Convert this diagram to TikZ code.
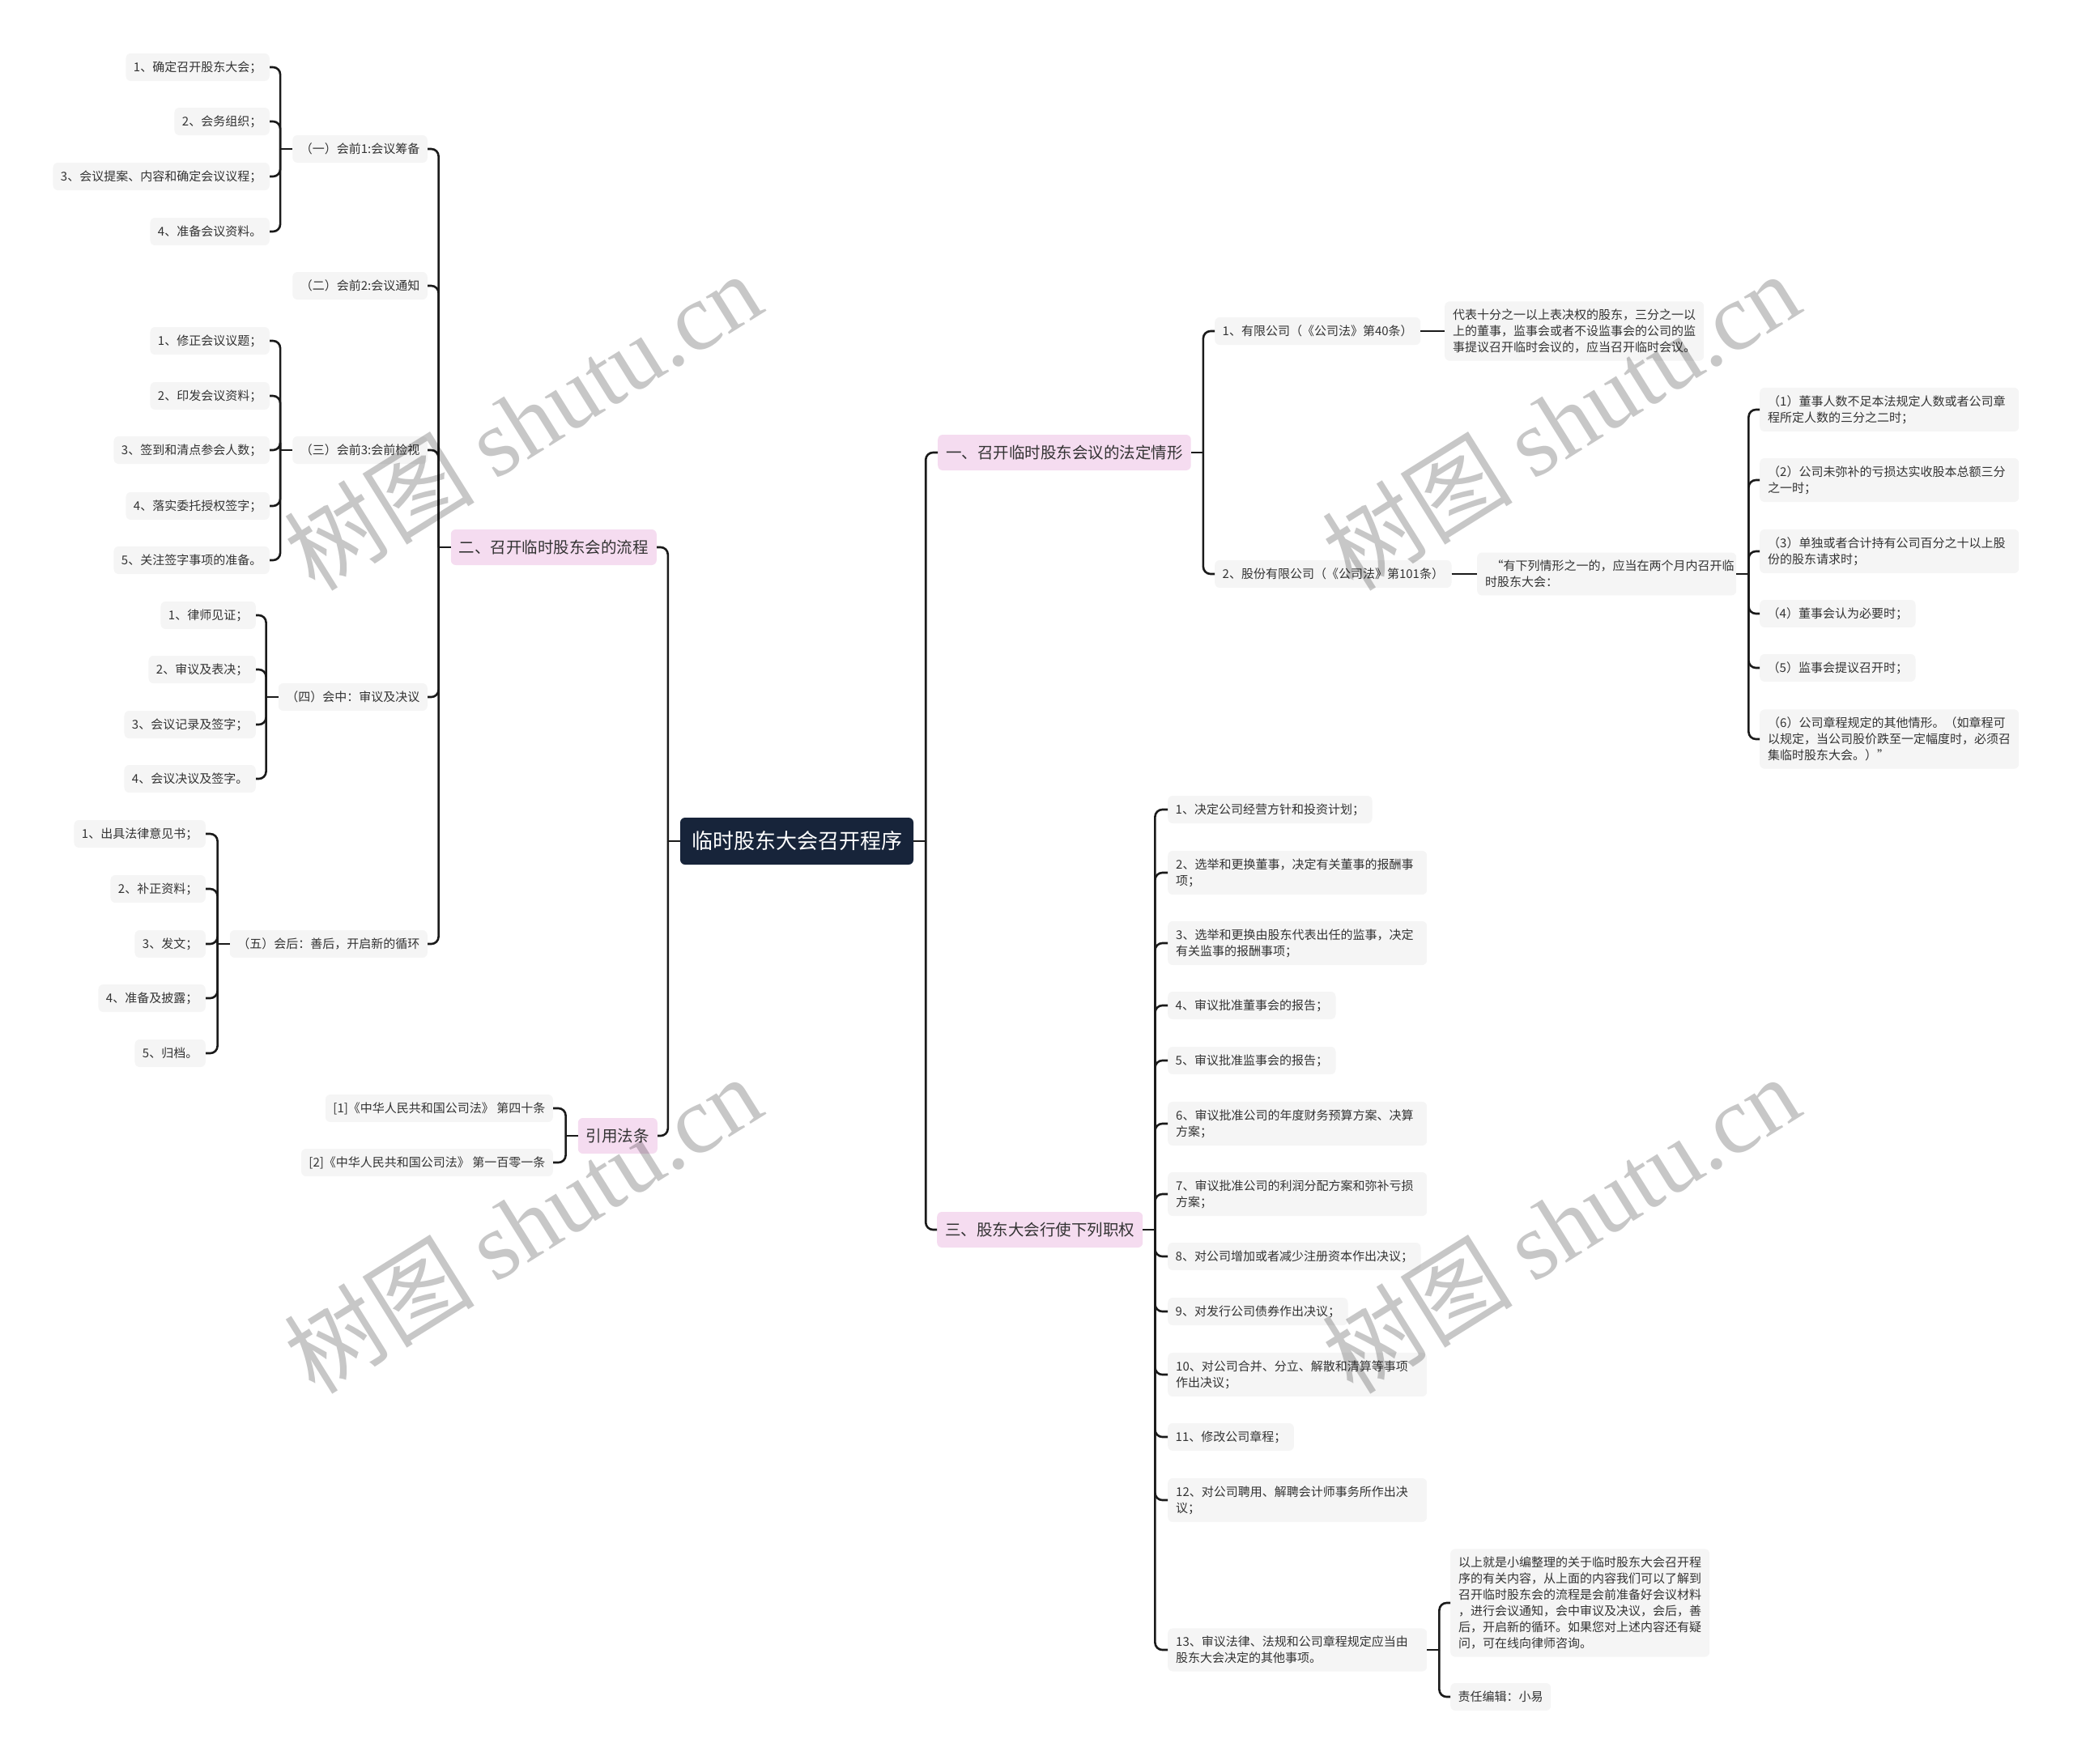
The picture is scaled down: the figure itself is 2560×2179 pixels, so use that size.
\documentclass[tikz,border=0pt]{standalone}
\usepackage{fontspec}
\setmainfont{Noto Sans CJK SC}
\newfontfamily\wmlatin{Liberation Serif}
\usepackage{xcolor}
\usetikzlibrary{calc}

\definecolor{leafgray}{HTML}{F5F5F5}
\definecolor{mainpink}{HTML}{F5DCF0}
\definecolor{rootnavy}{HTML}{17243A}
\definecolor{linedark}{HTML}{1A1A1A}
\definecolor{textdark}{HTML}{333333}

% connector from a parent on the right to a child on its left
\newcommand{\leftlink}[2]{\draw[conn] ($(#1.west)+(-15,0)$) |- (#2.east);}
% connector from a parent on the left to a child on its right
\newcommand{\rightlink}[2]{\draw[conn] ($(#1.east)+(15,0)$) |- (#2.west);}

\begin{document}
\begin{tikzpicture}[x=1pt, y=-1pt,
        % Style for the root topic
        roottopic/.style={
            fill=rootnavy,
            text=white,
            rounded corners=6pt,
            inner xsep=14pt,
            inner ysep=0pt,
            minimum height=58pt,
            font=\fontsize{26}{30}\selectfont
        },
        % Style for the four main branches
        maintopic/.style={
            fill=mainpink,
            text=textdark,
            rounded corners=6pt,
            inner xsep=10pt,
            inner ysep=0pt,
            minimum height=44pt,
            font=\fontsize{19.5}{24}\selectfont
        },
        % Style for the small grey boxes
        leafbox/.style={
            fill=leafgray,
            text=textdark,
            rounded corners=6pt,
            inner xsep=9.5pt,
            inner ysep=0pt,
            minimum height=34pt,
            font=\fontsize{15}{20}\selectfont
        },
        % Grey boxes with several lines of text
        wideleaf/.style={
            leafbox,
            text width=300pt,
            align=left,
            inner xsep=10pt,
            inner ysep=9.5pt
        },
        % Style for the connectors
        conn/.style={
            draw=linedark,
            line width=2.6pt,
            rounded corners=9pt
        },
        % Style for the watermark
        watermark/.style={
            text=black,
            opacity=0.22,
            rotate=32,
            font=\fontsize{118}{130}\selectfont
        }
    ]
    \useasboundingbox (0,0) rectangle (2560,2179);

    % ==========================================
    % ROOT
    % ==========================================
    \node[roottopic] (root) at (984,1039) {临时股东大会召开程序};

    % ==========================================
    % LEFT SIDE
    % ==========================================
    \node[maintopic, anchor=east] (p2) at (811,676) {二、召开临时股东会的流程};
    \node[maintopic, anchor=east] (p4) at (812,1403) {引用法条};

    % stages of the procedure
    \node[leafbox, anchor=east] (s1) at (528,184) {（一）会前1:会议筹备};
    \node[leafbox, anchor=east] (s2) at (528,353) {（二）会前2:会议通知};
    \node[leafbox, anchor=east] (s3) at (528,556) {（三）会前3:会前检视};
    \node[leafbox, anchor=east] (s4) at (528,861) {（四）会中：审议及决议};
    \node[leafbox, anchor=east] (s5) at (528,1166) {（五）会后：善后，开启新的循环};

    % (一)
    \node[leafbox, anchor=east] (a1) at (333,83) {1、确定召开股东大会；};
    \node[leafbox, anchor=east] (a2) at (333,150) {2、会务组织；};
    \node[leafbox, anchor=east] (a3) at (333,218) {3、会议提案、内容和确定会议议程；};
    \node[leafbox, anchor=east] (a4) at (333,286) {4、准备会议资料。};

    % (三)
    \node[leafbox, anchor=east] (b1) at (333,421) {1、修正会议议题；};
    \node[leafbox, anchor=east] (b2) at (333,489) {2、印发会议资料；};
    \node[leafbox, anchor=east] (b3) at (333,556) {3、签到和清点参会人数；};
    \node[leafbox, anchor=east] (b4) at (333,625) {4、落实委托授权签字；};
    \node[leafbox, anchor=east] (b5) at (333,692) {5、关注签字事项的准备。};

    % (四)
    \node[leafbox, anchor=east] (c1) at (316,760) {1、律师见证；};
    \node[leafbox, anchor=east] (c2) at (316,827) {2、审议及表决；};
    \node[leafbox, anchor=east] (c3) at (316,895) {3、会议记录及签字；};
    \node[leafbox, anchor=east] (c4) at (316,962) {4、会议决议及签字。};

    % (五)
    \node[leafbox, anchor=east] (d1) at (254,1030) {1、出具法律意见书；};
    \node[leafbox, anchor=east] (d2) at (254,1098) {2、补正资料；};
    \node[leafbox, anchor=east] (d3) at (254,1166) {3、发文；};
    \node[leafbox, anchor=east] (d4) at (254,1233) {4、准备及披露；};
    \node[leafbox, anchor=east] (d5) at (254,1301) {5、归档。};

    % cited articles
    \node[leafbox, anchor=east] (r1) at (683,1369) {[1]《中华人民共和国公司法》 第四十条};
    \node[leafbox, anchor=east] (r2) at (683,1436) {[2]《中华人民共和国公司法》 第一百零一条};

    % ==========================================
    % RIGHT SIDE
    % ==========================================
    \node[maintopic, anchor=west] (p1) at (1158,559) {一、召开临时股东会议的法定情形};
    \node[maintopic, anchor=west] (p3) at (1157,1519) {三、股东大会行使下列职权};

    % legal situations
    \node[leafbox, anchor=west] (q1) at (1500,409) {1、有限公司（《公司法》第40条）};
    \node[leafbox, anchor=west] (q2) at (1500,709) {2、股份有限公司（《公司法》第101条）};
    \node[wideleaf, anchor=west] (q1a) at (1784,409) {代表十分之一以上表决权的股东，三分之一以\\上的董事，监事会或者不设监事会的公司的监\\事提议召开临时会议的，应当召开临时会议。};
    \node[wideleaf, anchor=west] (q2a) at (1824,709) {\hspace{0.5em}“有下列情形之一的，应当在两个月内召开临\\时股东大会：};

    \node[wideleaf, anchor=west] (e1) at (2173,506) {（1）董事人数不足本法规定人数或者公司章\\程所定人数的三分之二时；};
    \node[wideleaf, anchor=west] (e2) at (2173,593) {（2）公司未弥补的亏损达实收股本总额三分\\之一时；};
    \node[wideleaf, anchor=west] (e3) at (2173,681) {（3）单独或者合计持有公司百分之十以上股\\份的股东请求时；};
    \node[leafbox, anchor=west] (e4) at (2173,758) {（4）董事会认为必要时；};
    \node[leafbox, anchor=west] (e5) at (2173,825) {（5）监事会提议召开时；};
    \node[wideleaf, anchor=west] (e6) at (2173,913) {（6）公司章程规定的其他情形。（如章程可\\以规定，当公司股价跌至一定幅度时，必须召\\集临时股东大会。）”};

    % powers of the meeting
    \node[leafbox, anchor=west] (f1) at (1442,1000) {1、决定公司经营方针和投资计划；};
    \node[wideleaf, anchor=west] (f2) at (1442,1078) {2、选举和更换董事，决定有关董事的报酬事\\项；};
    \node[wideleaf, anchor=west] (f3) at (1442,1165) {3、选举和更换由股东代表出任的监事，决定\\有关监事的报酬事项；};
    \node[leafbox, anchor=west] (f4) at (1442,1242) {4、审议批准董事会的报告；};
    \node[leafbox, anchor=west] (f5) at (1442,1310) {5、审议批准监事会的报告；};
    \node[wideleaf, anchor=west] (f6) at (1442,1388) {6、审议批准公司的年度财务预算方案、决算\\方案；};
    \node[wideleaf, anchor=west] (f7) at (1442,1475) {7、审议批准公司的利润分配方案和弥补亏损\\方案；};
    \node[leafbox, anchor=west] (f8) at (1442,1552) {8、对公司增加或者减少注册资本作出决议；};
    \node[leafbox, anchor=west] (f9) at (1442,1620) {9、对发行公司债券作出决议；};
    \node[wideleaf, anchor=west] (f10) at (1442,1698) {10、对公司合并、分立、解散和清算等事项\\作出决议；};
    \node[leafbox, anchor=west] (f11) at (1442,1775) {11、修改公司章程；};
    \node[wideleaf, anchor=west] (f12) at (1442,1853) {12、对公司聘用、解聘会计师事务所作出决\\议；};
    \node[wideleaf, anchor=west] (f13) at (1442,2038) {13、审议法律、法规和公司章程规定应当由\\股东大会决定的其他事项。};

    \node[wideleaf, anchor=west] (g1) at (1791,1980) {以上就是小编整理的关于临时股东大会召开程\\序的有关内容，从上面的内容我们可以了解到\\召开临时股东会的流程是会前准备好会议材料\\，进行会议通知，会中审议及决议，会后，善\\后，开启新的循环。如果您对上述内容还有疑\\问，可在线向律师咨询。};
    \node[leafbox, anchor=west] (g2) at (1791,2096) {责任编辑：小易};

    % ==========================================
    % CONNECTORS
    % ==========================================
    % stubs leaving each parent
    \foreach \n in {root,p2,p4,s1,s3,s4,s5}
        {\draw[conn] (\n.west) -- ++(-15,0);}
    \foreach \n in {root,p1,p3,q1,q2,q2a,f13}
        {\draw[conn] (\n.east) -- ++(15,0);}

    \foreach \c in {p2,p4} {\leftlink{root}{\c}}
    \foreach \c in {s1,s2,s3,s4,s5} {\leftlink{p2}{\c}}
    \foreach \c in {a1,a2,a3,a4} {\leftlink{s1}{\c}}
    \foreach \c in {b1,b2,b3,b4,b5} {\leftlink{s3}{\c}}
    \foreach \c in {c1,c2,c3,c4} {\leftlink{s4}{\c}}
    \foreach \c in {d1,d2,d3,d4,d5} {\leftlink{s5}{\c}}
    \foreach \c in {r1,r2} {\leftlink{p4}{\c}}

    \foreach \c in {p1,p3} {\rightlink{root}{\c}}
    \foreach \c in {q1,q2} {\rightlink{p1}{\c}}
    \draw[conn] (q1.east) -- (q1a.west);
    \draw[conn] (q2.east) -- (q2a.west);
    \foreach \c in {e1,e2,e3,e4,e5,e6} {\rightlink{q2a}{\c}}
    \foreach \c in {f1,f2,f3,f4,f5,f6,f7,f8,f9,f10,f11,f12,f13} {\rightlink{p3}{\c}}
    \foreach \c in {g1,g2} {\rightlink{f13}{\c}}

    % ==========================================
    % WATERMARKS
    % ==========================================
    \node[watermark] (wm1) at (645,520) {树图 {\wmlatin shutu.cn}};
    \node[watermark] (wm2) at (1927,520) {树图 {\wmlatin shutu.cn}};
    \node[watermark] (wm3) at (645,1512) {树图 {\wmlatin shutu.cn}};
    \node[watermark] (wm4) at (1927,1512) {树图 {\wmlatin shutu.cn}};

\end{tikzpicture}
\end{document}
